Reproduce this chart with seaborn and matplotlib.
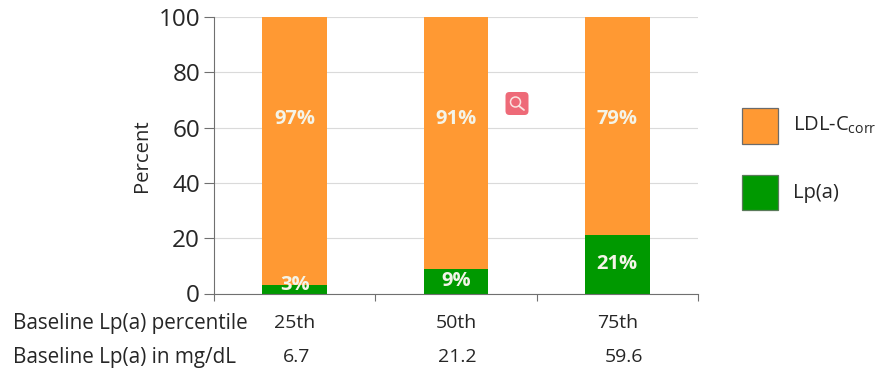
import matplotlib
matplotlib.use("Agg")
import matplotlib.pyplot as plt
from matplotlib.patches import FancyBboxPatch, Rectangle, Circle
from matplotlib.lines import Line2D
import pandas as pd
import seaborn as sns

percentiles = ["25th", "50th", "75th"]
mg_dl = ["6.7", "21.2", "59.6"]
lpa = [3, 9, 21]
ldl = [97, 91, 79]
y_ticks = [0, 20, 40, 60, 80, 100]

ORANGE = "#FF9933"
GREEN = "#009900"
TXT = "#262626"

sns.set_theme(style="white")
plt.rcParams["font.family"] = ["Open Sans", "DejaVu Sans"]
plt.rcParams["mathtext.fontset"] = "custom"
plt.rcParams["mathtext.rm"] = "Open Sans"

W, H = 876, 371
fig = plt.figure(figsize=(W / 100, H / 100), dpi=100)
ax = fig.add_axes([214 / W, 1 - 293.5 / H, 484 / W, 276.5 / H])

df = pd.DataFrame({"pct": percentiles, "lpa": lpa, "ldl": ldl})
sns.barplot(data=df, x="pct", y="lpa", color=GREEN, saturation=1, width=0.4, ax=ax, zorder=3, linewidth=0)
sns.barplot(data=df, x="pct", y="ldl", bottom=df["lpa"], color=ORANGE, saturation=1, width=0.4, ax=ax, zorder=3, linewidth=0)

ax.set_xlim(-0.5, 2.5)
ax.set_ylim(0, 100)
ax.set_xlabel("")
ax.set_ylabel("Percent", fontsize=14.6, color=TXT, labelpad=5)
ax.set_yticks(y_ticks)
ax.set_xticks([-0.5, 0.5, 1.5, 2.5])
ax.set_xticklabels([])
ax.tick_params(axis="y", labelsize=17.5, labelcolor=TXT, length=7, width=0.8, color="#707070",
               direction="out", left=True, pad=3)
ax.tick_params(axis="x", length=5, width=0.8, color="#707070", direction="out", bottom=True)
ax.grid(axis="y", color="#DADADA", lw=0.8, zorder=0)
ax.set_axisbelow(True)
for s in ["top", "right"]:
    ax.spines[s].set_visible(False)
for s in ["left", "bottom"]:
    ax.spines[s].set_color("#707070")
    ax.spines[s].set_linewidth(0.8)
    ax.spines[s].set_zorder(4)

for i, (a, b) in enumerate(zip(lpa, ldl)):
    y_low = a / 2 if a > 5 else 3
    ax.text(i, y_low, f"{a}%", ha="center", va="center", color="#F4F4E8",
            fontsize=14.5, fontweight="bold", zorder=5)
    ax.text(i, 63, f"{b}%", ha="center", va="center", color="#F4F4E8",
            fontsize=14.5, fontweight="bold", zorder=5)

trans = ax.get_xaxis_transform()
y1 = (293.5 - 323.5) / 276.5
y2 = (293.5 - 357.5) / 276.5
row1_nudge = [0.0, 0.0, 0.0]
row2_nudge = [0.01, 0.01, 0.04]
for i, (p, m) in enumerate(zip(percentiles, mg_dl)):
    ax.text(i + row1_nudge[i], y1, p, transform=trans, ha="center", va="center", fontsize=14, color=TXT)
    ax.text(i + row2_nudge[i], y2, m, transform=trans, ha="center", va="center", fontsize=14, color=TXT)
fig.text(13 / W, 1 - 323.5 / H, "Baseline Lp(a) percentile", ha="left", va="center", fontsize=14.9, color=TXT)
fig.text(13 / W, 1 - 357.5 / H, "Baseline Lp(a) in mg/dL", ha="left", va="center", fontsize=14.9, color=TXT)


def fig_rect(x, y, w, h, **kw):
    fig.add_artist(Rectangle((x / W, 1 - (y + h) / H), w / W, h / H, transform=fig.transFigure, **kw))


fig_rect(741.5, 107.5, 36, 36, facecolor=ORANGE, edgecolor="#6B6B6B", lw=0.9)
fig_rect(741.5, 175, 36, 35, facecolor=GREEN, edgecolor="#5A7A5A", lw=0.9)
fig.text(793 / W, 1 - 125 / H, r"LDL-C$_{\mathrm{corr}}$", ha="left", va="center", fontsize=14.5, color=TXT)
fig.text(793 / W, 1 - 193 / H, "Lp(a)", ha="left", va="center", fontsize=14.5, color=TXT)

# Pink search badge overlay from the source image
fig.add_artist(FancyBboxPatch((505.5, H - 115), 23, 23, boxstyle="round,pad=0,rounding_size=4",
                              transform=None, facecolor="#EE6A78", edgecolor="none"))
fig.add_artist(Circle((515.5, H - 102), 5, transform=None, facecolor="none", edgecolor="#FBE3E0", lw=1.1))
fig.add_artist(Line2D([519, 524], [H - 106, H - 110], transform=None, color="#FBE3E0", lw=1.3))

fig.savefig("out.png", dpi=100)
